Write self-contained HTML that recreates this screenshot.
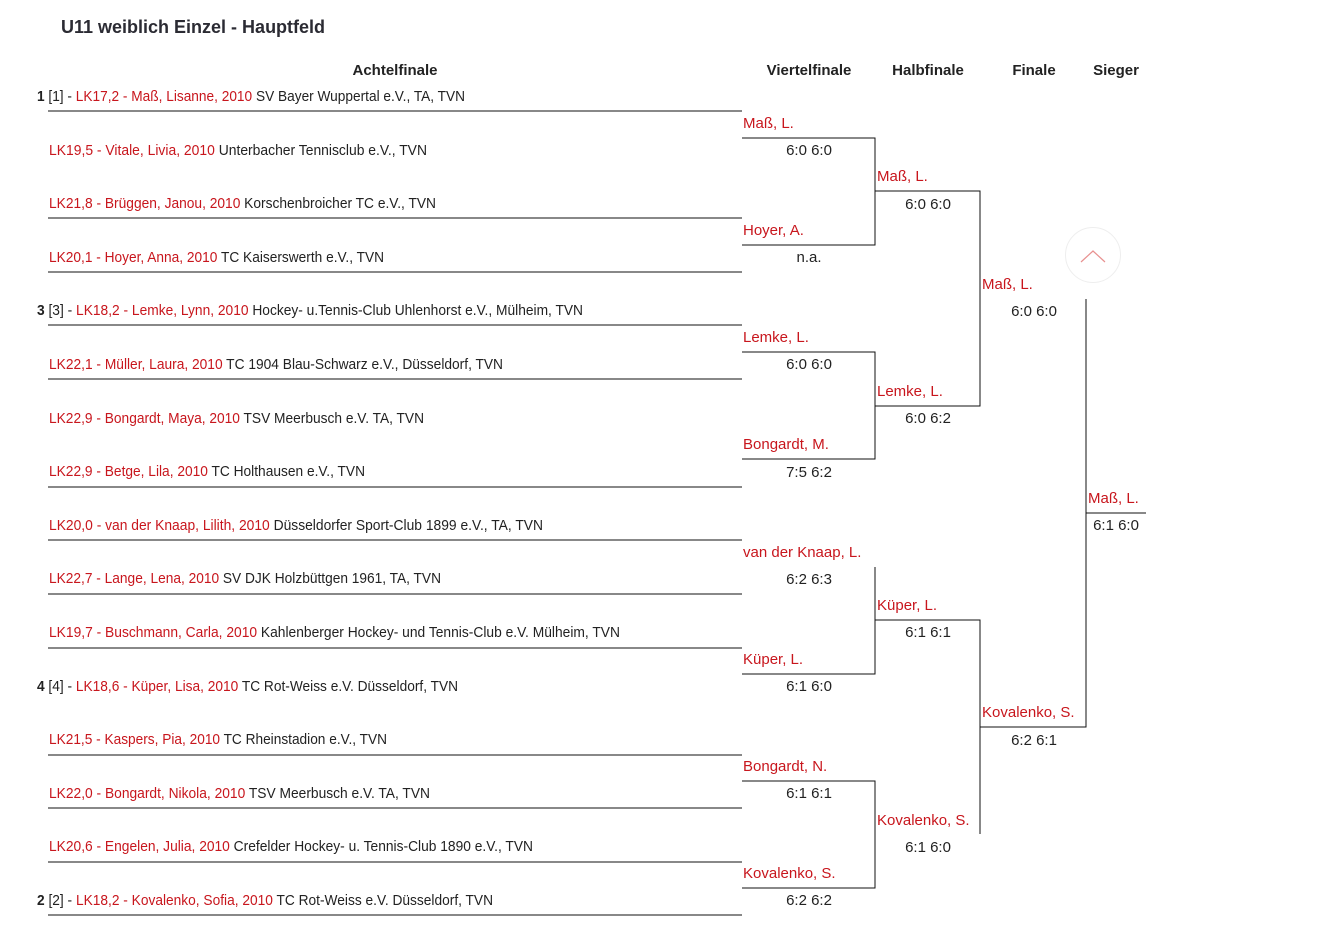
<!DOCTYPE html>
<html><head><meta charset="utf-8"><style>
html,body{margin:0;padding:0;background:#fff;width:1337px;height:942px;overflow:hidden}
svg{display:block}
.t{font-family:"Liberation Sans Narrow","Liberation Sans",sans-serif;font-size:15px;fill:#222}
.r{fill:#c8161d}
.h{font-family:"Liberation Sans Narrow","Liberation Sans",sans-serif;font-size:15px;font-weight:bold;fill:#222}
</style></head><body>
<svg width="1337" height="942" xmlns="http://www.w3.org/2000/svg">
<text x="61" y="33" style="font-family:'Liberation Sans',sans-serif;font-size:18px;font-weight:bold;fill:#2b2b33">U11 weiblich Einzel - Hauptfeld</text>
<g class="h" text-anchor="middle">
<text x="395" y="75">Achtelfinale</text>
<text x="809" y="75">Viertelfinale</text>
<text x="928" y="75">Halbfinale</text>
<text x="1034" y="75">Finale</text>
<text x="1116" y="75">Sieger</text>
</g>
<g class="t" lengthAdjust="spacingAndGlyphs">
<text x="37" y="101" textLength="428" lengthAdjust="spacingAndGlyphs"><tspan font-weight="bold">1</tspan> [1] - <tspan class="r">LK17,2 - Maß, Lisanne, 2010</tspan> SV Bayer Wuppertal e.V., TA, TVN</text>
<text x="49" y="155" textLength="378" lengthAdjust="spacingAndGlyphs"><tspan class="r">LK19,5 - Vitale, Livia, 2010</tspan> Unterbacher Tennisclub e.V., TVN</text>
<text x="49" y="208" textLength="387" lengthAdjust="spacingAndGlyphs"><tspan class="r">LK21,8 - Brüggen, Janou, 2010</tspan> Korschenbroicher TC e.V., TVN</text>
<text x="49" y="262" textLength="335" lengthAdjust="spacingAndGlyphs"><tspan class="r">LK20,1 - Hoyer, Anna, 2010</tspan> TC Kaiserswerth e.V., TVN</text>
<text x="37" y="315" textLength="546" lengthAdjust="spacingAndGlyphs"><tspan font-weight="bold">3</tspan> [3] - <tspan class="r">LK18,2 - Lemke, Lynn, 2010</tspan> Hockey- u.Tennis-Club Uhlenhorst e.V., Mülheim, TVN</text>
<text x="49" y="369" textLength="454" lengthAdjust="spacingAndGlyphs"><tspan class="r">LK22,1 - Müller, Laura, 2010</tspan> TC 1904 Blau-Schwarz e.V., Düsseldorf, TVN</text>
<text x="49" y="423" textLength="375" lengthAdjust="spacingAndGlyphs"><tspan class="r">LK22,9 - Bongardt, Maya, 2010</tspan> TSV Meerbusch e.V. TA, TVN</text>
<text x="49" y="476" textLength="316" lengthAdjust="spacingAndGlyphs"><tspan class="r">LK22,9 - Betge, Lila, 2010</tspan> TC Holthausen e.V., TVN</text>
<text x="49" y="530" textLength="494" lengthAdjust="spacingAndGlyphs"><tspan class="r">LK20,0 - van der Knaap, Lilith, 2010</tspan> Düsseldorfer Sport-Club 1899 e.V., TA, TVN</text>
<text x="49" y="583" textLength="392" lengthAdjust="spacingAndGlyphs"><tspan class="r">LK22,7 - Lange, Lena, 2010</tspan> SV DJK Holzbüttgen 1961, TA, TVN</text>
<text x="49" y="637" textLength="571" lengthAdjust="spacingAndGlyphs"><tspan class="r">LK19,7 - Buschmann, Carla, 2010</tspan> Kahlenberger Hockey- und Tennis-Club e.V. Mülheim, TVN</text>
<text x="37" y="691" textLength="421" lengthAdjust="spacingAndGlyphs"><tspan font-weight="bold">4</tspan> [4] - <tspan class="r">LK18,6 - Küper, Lisa, 2010</tspan> TC Rot-Weiss e.V. Düsseldorf, TVN</text>
<text x="49" y="744" textLength="338" lengthAdjust="spacingAndGlyphs"><tspan class="r">LK21,5 - Kaspers, Pia, 2010</tspan> TC Rheinstadion e.V., TVN</text>
<text x="49" y="798" textLength="381" lengthAdjust="spacingAndGlyphs"><tspan class="r">LK22,0 - Bongardt, Nikola, 2010</tspan> TSV Meerbusch e.V. TA, TVN</text>
<text x="49" y="851" textLength="484" lengthAdjust="spacingAndGlyphs"><tspan class="r">LK20,6 - Engelen, Julia, 2010</tspan> Crefelder Hockey- u. Tennis-Club 1890 e.V., TVN</text>
<text x="37" y="905" textLength="456" lengthAdjust="spacingAndGlyphs"><tspan font-weight="bold">2</tspan> [2] - <tspan class="r">LK18,2 - Kovalenko, Sofia, 2010</tspan> TC Rot-Weiss e.V. Düsseldorf, TVN</text>
</g>
<g stroke="#111" stroke-width="1.3" fill="none" shape-rendering="crispEdges">
<path d="M48 111H742M48 218H742M48 272H742M48 325H742M48 379H742M48 487H742M48 540H742M48 594H742M48 648H742M48 755H742M48 808H742M48 862H742M48 915H742"/>
<path d="M742 138H875V245H742M742 352H875V459H742M875 567V674H742M742 781H875V888H742"/>
<path d="M875 191H980V406H875M875 620H980V834"/>
<path d="M1086 299V727H980M1086 513H1146"/>
</g>
<g class="t r">
<text x="743" y="128">Maß, L.</text>
<text x="743" y="235">Hoyer, A.</text>
<text x="743" y="342">Lemke, L.</text>
<text x="743" y="449">Bongardt, M.</text>
<text x="743" y="557">van der Knaap, L.</text>
<text x="743" y="664">Küper, L.</text>
<text x="743" y="771">Bongardt, N.</text>
<text x="743" y="878">Kovalenko, S.</text>
<text x="877" y="181">Maß, L.</text>
<text x="877" y="396">Lemke, L.</text>
<text x="877" y="610">Küper, L.</text>
<text x="877" y="825">Kovalenko, S.</text>
<text x="982" y="289">Maß, L.</text>
<text x="982" y="717">Kovalenko, S.</text>
<text x="1088" y="503">Maß, L.</text>
</g>
<g class="t" text-anchor="middle">
<text x="809" y="155">6:0 6:0</text>
<text x="809" y="262">n.a.</text>
<text x="809" y="369">6:0 6:0</text>
<text x="809" y="477">7:5 6:2</text>
<text x="809" y="584">6:2 6:3</text>
<text x="809" y="691">6:1 6:0</text>
<text x="809" y="798">6:1 6:1</text>
<text x="809" y="905">6:2 6:2</text>
<text x="928" y="209">6:0 6:0</text>
<text x="928" y="423">6:0 6:2</text>
<text x="928" y="637">6:1 6:1</text>
<text x="928" y="852">6:1 6:0</text>
<text x="1034" y="316">6:0 6:0</text>
<text x="1034" y="745">6:2 6:1</text>
<text x="1116" y="530">6:1 6:0</text>
</g>
<circle cx="1093" cy="255" r="27.5" fill="#fff" stroke="#eeeeee" stroke-width="1"/>
<path d="M1081 262L1093 251L1105 262" fill="none" stroke="#e8908f" stroke-width="1.2"/>
</svg>
</body></html>
